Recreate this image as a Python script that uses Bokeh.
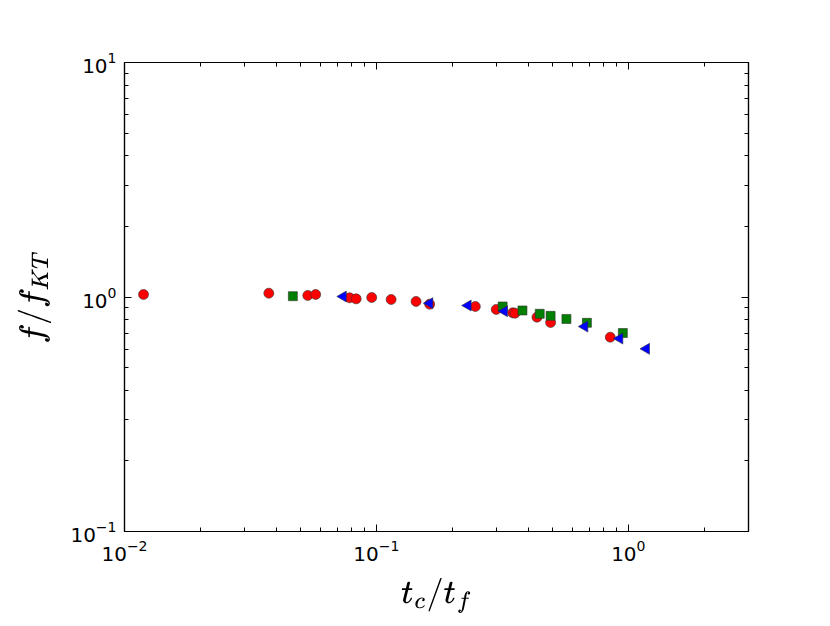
import numpy as np
from bokeh.plotting import figure
from bokeh.models import LogAxis, FixedTicker
from bokeh.embed import file_html
from bokeh.resources import INLINE

# Red circles
red_x = [0.0119, 0.0374, 0.0534, 0.0574, 0.0783, 0.0831, 0.0958, 0.1144, 0.1437,
         0.1627, 0.247, 0.299, 0.3476, 0.355, 0.434, 0.4915, 0.848]
red_y = [1.025, 1.038, 1.015, 1.025, 0.992, 0.982, 0.995, 0.976, 0.957,
         0.932, 0.911, 0.885, 0.856, 0.853, 0.820, 0.778, 0.674]
# Green squares
green_x = [0.0466, 0.317, 0.380, 0.445, 0.4915, 0.568, 0.685, 0.951]
green_y = [1.008, 0.911, 0.876, 0.848, 0.831, 0.806, 0.776, 0.702]
# Blue left-pointing triangles
blue_x = [0.0738, 0.1627, 0.231, 0.322, 0.671, 0.924, 1.179]
blue_y = [1.005, 0.941, 0.920, 0.870, 0.748, 0.665, 0.601]

x_range = (0.01, 3.0)
y_range = (0.1, 10.0)
x_major = [0.01, 0.1, 1.0]
y_major = [0.1, 1.0, 10.0]
x_title = r"$$t_c/t_f$$"
y_title = r"$$f/f_{KT}$$"

def minors(decades, upto):
    out = []
    for d in decades:
        for k in range(2, 10):
            v = k * d
            if v <= upto:
                out.append(v)
    return out

x_minor = minors([0.01, 0.1, 1.0], 3.0)
y_minor = minors([0.1, 1.0], 10.0)

p = figure(x_axis_type="log", y_axis_type="log",
           x_range=x_range, y_range=y_range,
           frame_width=624, frame_height=469,
           min_border_left=124, min_border_right=70,
           min_border_top=62, min_border_bottom=87,
           output_backend="svg", toolbar_location=None)
p.background_fill_color = "white"
p.border_fill_color = "white"
p.outline_line_color = "black"
p.outline_line_width = 1.2
p.grid.visible = False

p.scatter(red_x, red_y, marker="circle", size=10, fill_color="#ff0000",
          line_color="#333333", line_width=0.6)
p.scatter(green_x, green_y, marker="square", size=9, fill_color="#007f00",
          line_color="#333333", line_width=0.6)
p.scatter(blue_x, blue_y, marker="triangle", size=11, angle=np.pi / 2,
          fill_color="#0000ff", line_color="#333333", line_width=0.6)

p.add_layout(LogAxis(), "above")
p.add_layout(LogAxis(), "right")

for ax in p.above + p.below:
    ax.ticker = FixedTicker(ticks=x_major, minor_ticks=x_minor)
for ax in p.left + p.right:
    ax.ticker = FixedTicker(ticks=y_major, minor_ticks=y_minor)

for ax in p.axis:
    ax.axis_line_color = "black"
    ax.axis_line_width = 1.2
    ax.major_tick_in = 7
    ax.major_tick_out = 0
    ax.minor_tick_in = 4
    ax.minor_tick_out = 0
    ax.major_tick_line_color = "black"
    ax.minor_tick_line_color = "black"
    ax.major_label_text_font = "DejaVu Sans"
    ax.major_label_text_font_size = "20px"
    ax.major_label_text_color = "black"

p.above[0].major_label_text_alpha = 0
p.right[0].major_label_text_alpha = 0
p.below[0].major_label_standoff = 8
p.left[0].major_label_standoff = 8

p.below[0].axis_label = x_title
p.left[0].axis_label = y_title
for ax in (p.below[0], p.left[0]):
    ax.axis_label_text_font_size = "27px"
    ax.axis_label_text_color = "black"
p.below[0].axis_label_standoff = 14
p.left[0].axis_label_standoff = 16

open("out.html", "w").write(file_html(p, INLINE))
